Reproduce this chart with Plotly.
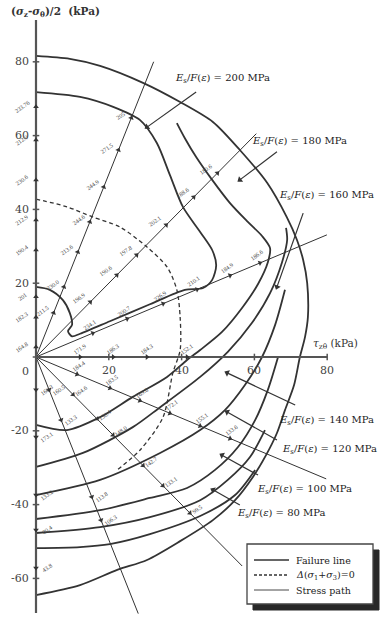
import math
import plotly.graph_objects as go

# ---------------------------------------------------------------
# Stress plane: x = tau_ztheta (kPa), y = (sigma_z - sigma_theta)/2 (kPa)
# ---------------------------------------------------------------

# Failure line
failure_x = [0, 9.3, 17.6, 29.4, 39.6, 48.6, 56.0, 63.5, 68.9, 71.7, 73.4, 74.5, 74.7,
             73.9, 72.5, 70.9, 68.4, 66.2, 63.2, 59.6, 54.7, 48.6, 39.6, 30.5, 22.3, 12.1, 0]
failure_y = [81.6, 80.8, 78.9, 74.3, 69.1, 63.7, 56.1, 47.2, 37.9, 31.7, 26.3, 20.1, 10.8,
             5.4, 0, -7.6, -14.4, -20.6, -26.6, -32.5, -38.8, -44.2, -49.9, -55.0, -57.7, -61.8, -64.5]

# E_s/F(e) contours (MPa)
e200_x = [0, 12.1, 21.2, 28.6, 33.2, 36.8, 40.4, 45.1, 48.4, 49.5, 48.4, 45.9, 40.9,
          31.3, 20.3, 12.1, 9.9, 8.8, 9.9, 9.3, 7.4, 3.8, 0]
e200_y = [71.8, 70.5, 67.8, 64.2, 58.0, 49.3, 40.6, 33.9, 29.0, 24.9, 20.9, 18.7, 18.2,
          14.3, 9.7, 6.3, 5.6, 7.0, 8.7, 11.9, 15.4, 18.2, 19.0]

e180_x = [0, 8.5, 17.6, 26.6, 36.0, 41.5, 45.1, 51.1, 56.6, 61.0, 63.7, 64.3, 62.1,
          58.2, 53.3, 48.4, 44.0, 40.9, 38.7]
e180_y = [-18.4, -19.8, -16.3, -10.8, -5.4, -0.8, 1.9, 6.8, 13.3, 19.8, 25.7, 29.5, 32.8,
          36.6, 41.7, 48.0, 54.2, 59.3, 63.4]

e160_x = [0, 12.9, 26.6, 34.1, 45.1, 52.7, 59.3, 64.3, 67.6, 69.0, 68.7]
e160_y = [-29.8, -26.0, -19.0, -13.6, -5.4, 1.4, 9.2, 17.3, 25.7, 31.7, 35.0]

e140_x = [0, 17.6, 34.1, 45.1, 51.9, 57.4, 62.1, 65.7, 68.4]
e140_y = [-37.4, -33.3, -26.0, -19.8, -14.4, -7.6, 0, 8.7, 18.2]

e120_x = [0, 17.6, 31.3, 41.5, 49.2, 55.5, 60.2, 63.7, 66.5]
e120_y = [-43.9, -41.5, -38.2, -35.5, -30.6, -24.4, -17.1, -8.9, 0]

e100_x = [0, 17.6, 31.3, 45.1, 52.7, 58.8, 62.9]
e100_y = [-47.7, -46.1, -43.4, -38.8, -33.3, -27.1, -19.8]

e80_x = [0, 12.1, 20.3, 31.3, 45.1, 54.7, 60.2]
e80_y = [-51.8, -51.5, -50.7, -48.0, -43.1, -37.4, -30.6]

# Locus of constant mean stress, delta(sigma1+sigma3)=0
zero_x = [0, 8.5, 15.7, 23.1, 30.5, 36.0, 38.7, 39.6, 39.6, 37.6, 34.9, 28.6, 22.3]
zero_y = [42.8, 40.7, 37.9, 35.2, 29.8, 24.4, 18.2, 10.8, 1.9, -4.3, -16.3, -25.2, -30.6]

# Stress paths: direction (deg), length (kPa), E_s/F(e) readings along each path
path_angle = [68, 45, 22.5, -22.5, -45, -68]
path_length = [86.3, 85.6, 86.5, 86.3, 80.1, 75.0]

reading_angle = [68, 45, 22.5, 0, -22.5, -45, -68, 90, -90]
reading_r = [
    [12.9, 20.5, 30.7, 39.5, 49.7, 60.5, 69.9],
    [21.1, 31.4, 39.1, 50.6, 61.3, 70.5],
    [16.9, 27.1, 37.8, 47.9, 57.7, 66.6],
    [12.1, 21.2, 30.5, 41.5],
    [12.2, 22.0, 30.9, 39.8, 48.8, 57.7],
    [14.4, 23.7, 29.9, 41.6, 49.3, 59.8],
    [9.6, 18.4, 40.9, 47.7],
    [2.7, 10.8, 16.3, 29.0, 37.1, 48.0, 58.8, 67.8],
    [8.9, 21.7, 37.4, 46.9, 57.2],
]
reading_text = [
    ["211.5", "230.0", "213.6", "244.6", "244.9", "271.5", "205"],
    ["196.9", "190.6", "197.8", "202.1", "188.6", "180.6"],
    ["234.1", "200.7", "226.9", "210.1", "184.9", "186.6"],
    ["171.9", "186.3", "184.3", "152.1"],
    ["184.4", "183.5", "169.8", "172.1", "155.1", "133.6"],
    ["164.6", "158.4", "148.0", "142.7", "133.1", "99.5"],
    ["160.5", "133.3", "113.8", "106.3"],
    ["164.8", "182.3", "201", "190.4", "212.9", "230.6", "212.0", "233.76"],
    ["160.3", "173.1", "133.2", "80.4", "43.8"],
]
reading_shift = [(-11, 2), (-11, 4), (-3, 8), (0, 8), (2, 8), (8, 4), (10, 0), (-14, 0), (11, 0)]

# Axes
y_axis_span = [-69.4, 91.3]
x_axis_span = [0, 80]
y_ticks = [-60, -40, -20, 0, 20, 40, 60, 80]
x_ticks = [20, 40, 60, 80]

# Contour labels: text anchor (left, middle) and leader (tail -> arrow tip)
contour_labels = ["200", "180", "160", "140", "120", "100", "80"]
label_pos = [(37.6, 75.6), (58.8, 58.3), (66.2, 43.9), (66.2, -17.1),
             (67.0, -25.2), (60.2, -35.8), (54.7, -42.3)]
leader_tail = [(44.0, 71.8), (66.2, 55.6), (73.4, 39.0), (71.2, -13.0),
               (66.2, -22.5), (61.0, -32.0), (56.0, -40.1)]
leader_tip = [(30.5, 62.3), (56.0, 48.0), (66.2, 19.0), (52.5, -4.3),
              (52.5, -14.9), (51.1, -26.6), (48.6, -36.0)]

# Legend entries
legend_names = ["Failure line", "<i>Δ</i>(<i>σ</i><sub>1</sub>+<i>σ</i><sub>3</sub>)=0", "Stress path"]
legend_dash = ["solid", "3px,2px", "solid"]
legend_width = [1.6, 1.3, 0.9]

INK = "#333333"
SERIF = "DejaVu Serif"
W, H = 389, 618
X_RANGE = [-9.89, 96.98]
Y_RANGE = [-70.73, 96.75]

fig = go.Figure()


def line(x, y, width, dash="solid", smooth=False, color=INK):
    ln = dict(color=color, width=width, dash=dash)
    if smooth:
        ln.update(shape="spline", smoothing=0.8)
    fig.add_trace(go.Scatter(x=x, y=y, mode="lines", showlegend=False,
                             hoverinfo="skip", line=ln, cliponaxis=False))


def note(x, y, text, size, color="#333", xanchor="center", yanchor="middle",
         ref="x", angle=0, dx=0, dy=0, family=SERIF):
    fig.add_annotation(x=x, y=y, text=text, showarrow=False, xanchor=xanchor,
                       yanchor=yanchor, textangle=angle, xshift=dx, yshift=dy,
                       xref="paper" if ref == "paper" else "x",
                       yref="paper" if ref == "paper" else "y",
                       font=dict(family=family, size=size, color=color))


def px_to_data(px, py):
    return (X_RANGE[0] + px / W * (X_RANGE[1] - X_RANGE[0]),
            Y_RANGE[1] - py / H * (Y_RANGE[1] - Y_RANGE[0]))


# contours
for cx, cy in [(e200_x, e200_y), (e180_x, e180_y), (e160_x, e160_y), (e140_x, e140_y),
               (e120_x, e120_y), (e100_x, e100_y), (e80_x, e80_y)]:
    line(cx, cy, 1.8, smooth=True)

# failure line
line(failure_x, failure_y, 1.8, smooth=True)

# mean-stress locus
line(zero_x, zero_y, 1.3, dash="4px,3px", smooth=True)

# stress paths
for ang, length in zip(path_angle, path_length):
    t = math.radians(ang)
    line([0, length * math.cos(t)], [0, length * math.sin(t)], 1.0)

# axes drawn through the origin
line([0, 0], y_axis_span, 2.2, color="#555")
line(x_axis_span, [0, 0], 2.2, color="#555")
for v in y_ticks:
    line([-0.9, 0.9], [v, v], 1.5, color="#555")
for v in x_ticks:
    line([v, v], [-0.9, 0.9], 1.5, color="#555")

# readings along paths: arrow marks and values
for ang, rs, texts, (dx, dy) in zip(reading_angle, reading_r, reading_text, reading_shift):
    t = math.radians(ang)
    px = [r * math.cos(t) for r in rs]
    py = [r * math.sin(t) for r in rs]
    fig.add_trace(go.Scatter(x=px, y=py, mode="markers", showlegend=False, hoverinfo="skip",
                             marker=dict(symbol="triangle-up", size=5, color=INK,
                                         angle=90 - ang)))
    for x0, y0, s in zip(px, py, texts):
        note(x0, y0, s, 6, color="#444", angle=-35, dx=dx, dy=dy, family="Liberation Serif")

# axis numbers
for v in y_ticks:
    if v == 0:
        continue
    note(-1.3, v, str(v), 11, color="#444", xanchor="right")
note(-1.4, -4.0, "0", 11, color="#444", xanchor="right")
for v in x_ticks:
    note(v, -3.6, str(v), 11, color="#444")

# axis titles
note(-7.3, 93.5, "<b>(<i>σ</i><sub>z</sub>-<i>σ</i><sub>θ</sub>)/2  (kPa)</b>", 10.5,
     xanchor="left")
note(75.6, 3.6, "<i>τ</i><sub>zθ</sub> (kPa)", 10.5, xanchor="left")

# contour labels with leaders
for lab, (lx, ly), (tx, ty), (hx, hy) in zip(contour_labels, label_pos, leader_tail, leader_tip):
    note(lx, ly, f"<i>E</i><sub>s</sub>/<i>F</i>(<i>ε</i>) = {lab} MPa", 10,
         color="#222", xanchor="left")
    line([tx, hx], [ty, hy], 1.2)
    heading = math.degrees(math.atan2(hy - ty, hx - tx))
    fig.add_trace(go.Scatter(x=[hx], y=[hy], mode="markers", showlegend=False,
                             hoverinfo="skip",
                             marker=dict(symbol="triangle-up", size=6, color=INK,
                                         angle=90 - heading)))

# legend box: dark drop shadow, white frame on top, samples, names
bx0, by0, bx1, by1 = 247, 544, 373, 604
fig.add_shape(type="rect", xref="paper", yref="paper", layer="above",
              x0=(bx0 + 6) / W, x1=(bx1 + 6) / W, y0=1 - (by1 + 6) / H, y1=1 - (by0 + 6) / H,
              fillcolor="rgb(40,40,40)", opacity=1, line=dict(color="rgb(40,40,40)", width=1))
fig.add_shape(type="rect", xref="paper", yref="paper", layer="above",
              x0=bx0 / W, x1=bx1 / W, y0=1 - by1 / H, y1=1 - by0 / H,
              fillcolor="white", line=dict(color="#444", width=1.3))
for k, (name, dash, wd) in enumerate(zip(legend_names, legend_dash, legend_width)):
    yy = 1 - (560 + 15 * k) / H
    fig.add_shape(type="line", xref="paper", yref="paper", layer="above",
                  x0=254 / W, x1=289 / W, y0=yy, y1=yy,
                  line=dict(color=INK, width=wd, dash=dash))
    note(294 / W, yy, name, 9.5, color="#222", xanchor="left", ref="paper")

fig.update_layout(
    width=W, height=H,
    margin=dict(l=0, r=0, t=0, b=0, pad=0),
    paper_bgcolor="white", plot_bgcolor="white",
    xaxis=dict(range=X_RANGE, visible=False, fixedrange=True),
    yaxis=dict(range=Y_RANGE, visible=False, fixedrange=True),
    showlegend=False,
)

fig.write_html("out.html")
